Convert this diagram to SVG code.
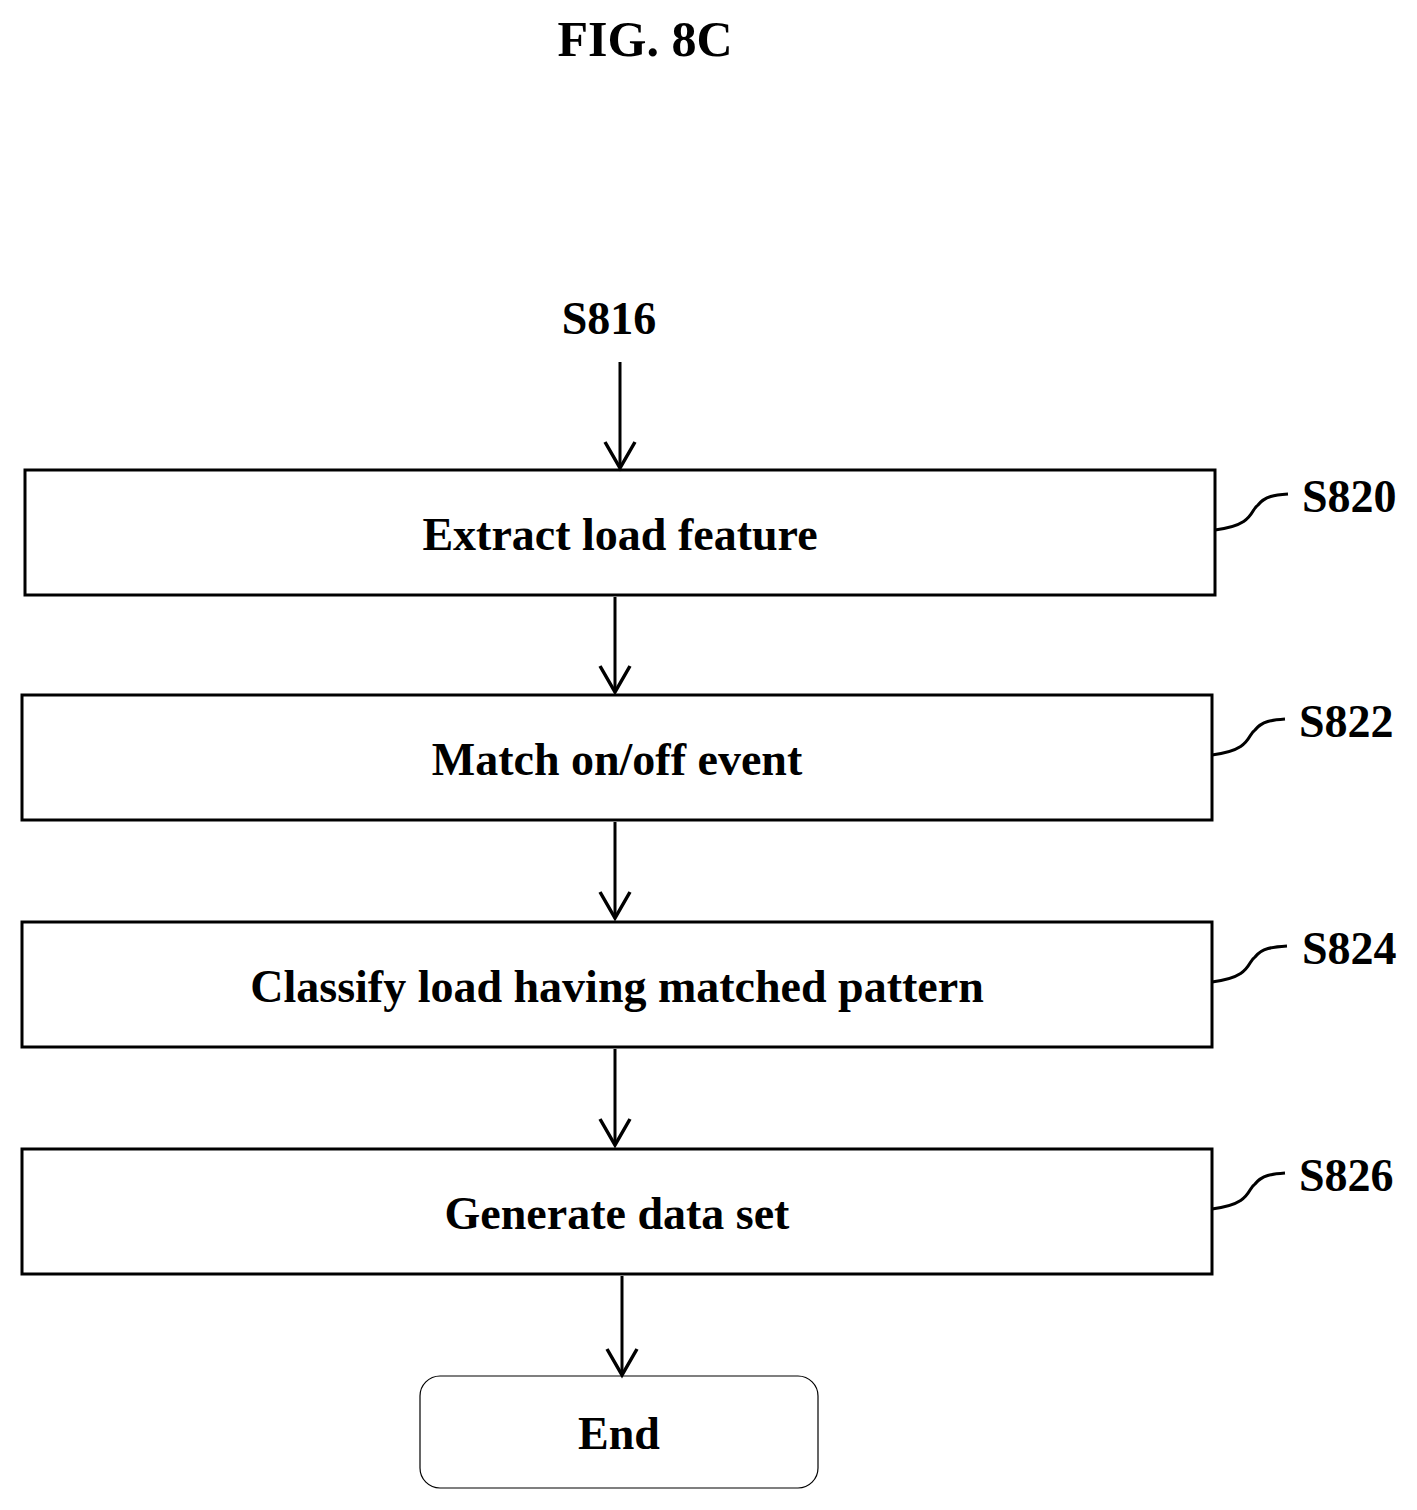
<svg xmlns="http://www.w3.org/2000/svg" width="1417" height="1510" viewBox="0 0 1417 1510">
<style>
text{font-family:"Liberation Serif","Times New Roman",serif;font-weight:bold;fill:#000}
.t{font-size:46px;text-anchor:middle}
.l{font-size:46px}
.b{fill:#fff;stroke:#000;stroke-width:3}
.c{fill:none;stroke:#000;stroke-width:3}
</style>
<defs><marker id="a" markerWidth="32" markerHeight="36" refX="28" refY="17" orient="auto" markerUnits="userSpaceOnUse" viewBox="0 0 32 36"><path d="M2 2 L28 17 L2 32" fill="none" stroke="#000" stroke-width="3.5"/></marker></defs>
<rect width="1417" height="1510" fill="#fff"/>
<text x="645" y="56" class="t" style="font-size:50px">FIG. 8C</text>
<text x="609" y="334" class="t">S816</text>
<g id="n820"><rect class="b" x="25" y="470" width="1190" height="125"/><text x="620" y="550" class="t">Extract load feature</text><path class="c" d="M1215 530 C1255 525 1250 510 1258 505 C1265 496 1275 495 1288 494"/><text x="1302" y="512" class="l">S820</text></g>
<g id="n822"><rect class="b" x="22" y="695" width="1190" height="125"/><text x="617" y="775" class="t">Match on/off event</text><path class="c" d="M1212 755 C1252 750 1247 735 1255 730 C1262 721 1272 720 1285 719"/><text x="1299" y="737" class="l">S822</text></g>
<g id="n824"><rect class="b" x="22" y="922" width="1190" height="125"/><text x="617" y="1002" class="t">Classify load having matched pattern</text><path class="c" d="M1212 982 C1252 977 1247 962 1255 957 C1262 948 1272 947 1287 946"/><text x="1302" y="964" class="l">S824</text></g>
<g id="n826"><rect class="b" x="22" y="1149" width="1190" height="125"/><text x="617" y="1229" class="t">Generate data set</text><path class="c" d="M1212 1209 C1252 1204 1247 1189 1255 1184 C1262 1175 1272 1174 1285 1173"/><text x="1299" y="1191" class="l">S826</text></g>
<g id="end"><rect x="420" y="1376" width="398" height="112" rx="20" fill="#fff" stroke="#000" stroke-width="1.2"/><text x="619" y="1449" class="t">End</text></g>
<g id="connectors" class="c">
<line class="c" x1="620" y1="362" x2="620" y2="468" marker-end="url(#a)"/>
<line class="c" x1="615" y1="597" x2="615" y2="692" marker-end="url(#a)"/>
<line class="c" x1="615" y1="822" x2="615" y2="918" marker-end="url(#a)"/>
<line class="c" x1="615" y1="1049" x2="615" y2="1145" marker-end="url(#a)"/>
<line class="c" x1="622" y1="1276" x2="622" y2="1375" marker-end="url(#a)"/>
</g>
</svg>
